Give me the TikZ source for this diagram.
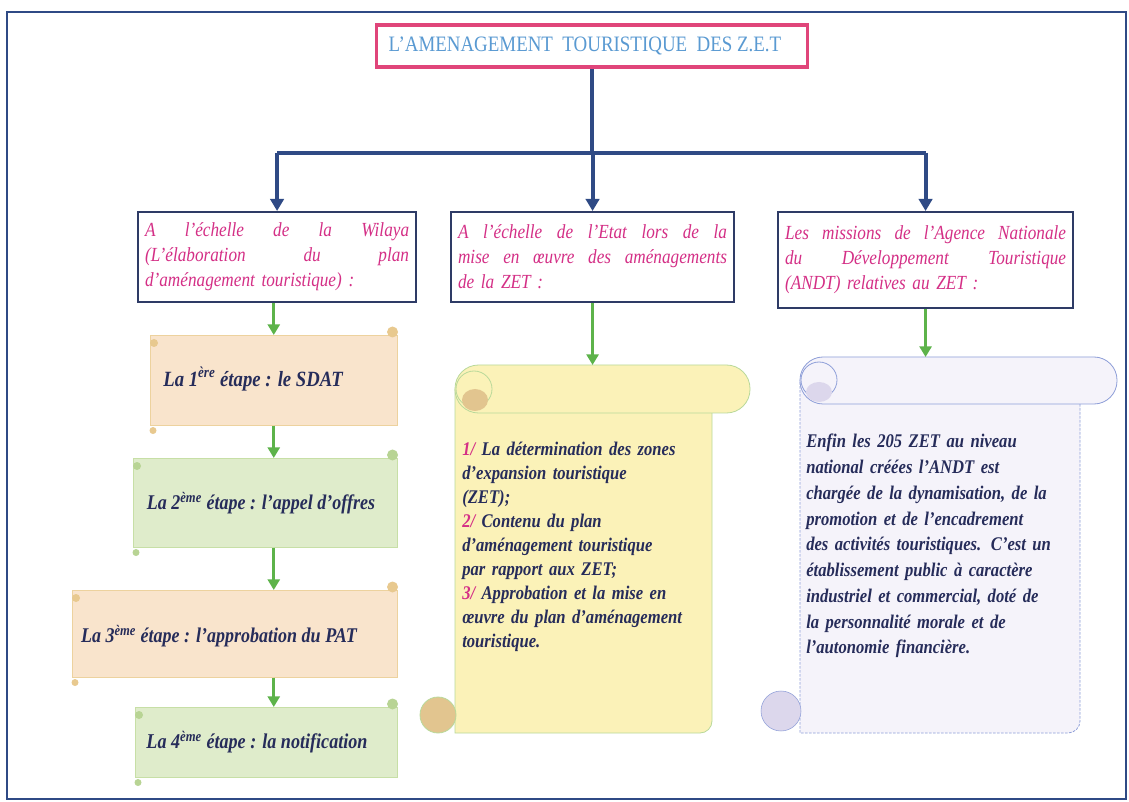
\documentclass[tikz,border=0pt]{standalone}
\usepackage{fontspec}
\setmainfont{Liberation Serif}
\newfontfamily\cond[FakeStretch=0.86]{Liberation Serif}
\usetikzlibrary{arrows.meta,calc}
\definecolor{navy}{HTML}{2F4A85}
\definecolor{boxline}{HTML}{2E3B66}
\definecolor{titlepink}{HTML}{E0457A}
\definecolor{titleblue}{HTML}{5A9AD2}
\definecolor{magent}{HTML}{D42F86}
\definecolor{arrgreen}{HTML}{5DB34A}
\definecolor{txtnavy}{HTML}{262C5A}
\definecolor{peach}{HTML}{F9E4CC}
\definecolor{peachline}{HTML}{EDD29E}
\definecolor{peachknob}{HTML}{E8C98F}
\definecolor{mint}{HTML}{DFECCB}
\definecolor{mintline}{HTML}{C7DFA6}
\definecolor{mintknob}{HTML}{B8D494}
\definecolor{paleyel}{HTML}{FBF2B8}
\definecolor{yelline}{HTML}{B9D99A}
\definecolor{tan}{HTML}{E2C58F}
\definecolor{lav}{HTML}{F5F3FA}
\definecolor{lavline}{HTML}{8E9ED8}
\definecolor{lavknob}{HTML}{DCD7EC}
\newdimen\pxu \pxu=0.75pt
\newcommand{\jline}[1]{\leavevmode\hbox to \hsize{\spaceskip=0.3em plus 1fil\relax #1}}
\begin{document}
\begin{tikzpicture}[x=0.75pt,y=-0.75pt,
  hdr/.style={draw=boxline, line width=1.6pt, fill=white, anchor=north west, inner sep=6\pxu,
    font=\cond\fontsize{15}{18.75}\selectfont\itshape, text=magent, align=left},
  stepbox/.style={inner sep=0pt, anchor=north west},
  steptext/.style={text=txtnavy},
  scrolltext/.style={font=\cond\fontsize{14.5}{18}\selectfont\bfseries\itshape, text=txtnavy, anchor=north west, align=left, inner sep=0pt},
  navyline/.style={draw=navy, line width=3pt},
  navyarrow/.style={navyline, -{Triangle[length=9pt,width=10pt]}},
  greenarrow/.style={draw=arrgreen, line width=2.4pt, -{Triangle[length=8pt,width=9pt]}},
]
\useasboundingbox (0,0) rectangle (1129,802);
\fill[white] (0,0) rectangle (1129,802);
\draw[navy, line width=1.6pt] (7,12) rectangle (1126,799);

% title
\node[draw=titlepink, line width=2.4pt, minimum width=431*\pxu, minimum height=42*\pxu, inner sep=0pt,
  font=\cond\fontsize{16.5}{17}\selectfont, text=titleblue] (title) at (592,46) {L’AMENAGEMENT\ \ TOURISTIQUE\ \ DES Z.E.T\hspace*{14\pxu}};

% header boxes
\node[hdr, minimum width=278*\pxu, minimum height=90*\pxu, text width=264*\pxu] (h1) at (137,211)
  {\jline{A l’échelle de la Wilaya}\\ \jline{(L’élaboration du plan}\\ d’aménagement touristique) :};
\node[hdr, minimum width=283*\pxu, minimum height=90*\pxu, text width=269*\pxu] (h2) at (450,211)
  {\jline{A l’échelle de l’Etat lors de la}\\ \jline{mise en œuvre des aménagements}\\ de la ZET :};
\node[hdr, minimum width=295*\pxu, minimum height=96*\pxu, text width=281*\pxu] (h3) at (777,211)
  {\jline{Les missions de l’Agence Nationale}\\ \jline{du Développement Touristique}\\ (ANDT) relatives au ZET :};

% navy tree
\coordinate (jn) at (592,153);
\coordinate (jl) at (h1.north |- jn);
\coordinate (jr) at (h3.north |- jn);
\draw[navyline] (title.south) -- (jn);
\draw[navyline] (jl) -- (jr);
\draw[navyarrow] (jl) -- (h1.north);
\draw[navyarrow] (h2.north |- jn) -- (h2.north);
\draw[navyarrow] (jr) -- (h3.north);

% left steps (horizontal scrolls)
\node[stepbox, minimum width=247*\pxu, minimum height=90*\pxu] (s1) at (150,335) {};
\node[stepbox, minimum width=264*\pxu, minimum height=89*\pxu] (s2) at (133,458) {};
\node[stepbox, minimum width=325*\pxu, minimum height=87*\pxu] (s3) at (72,590) {};
\node[stepbox, minimum width=262*\pxu, minimum height=70*\pxu] (s4) at (135,707) {};

\foreach \s/\f/\l/\k in {s1/peach/peachline/peachknob, s2/mint/mintline/mintknob, s3/peach/peachline/peachknob, s4/mint/mintline/mintknob}{
  \filldraw[fill=\f, draw=\l, line width=0.6pt] (\s.north west) rectangle (\s.south east);
  \fill[\k] ($(\s.north east)+(-5,-3)$) circle (5.5);
  \fill[\k] ($(\s.north west)+(4,8)$) circle (4);
  \fill[\k] ($(\s.south west)+(3,5)$) circle (3.5);
}
\node[steptext, font=\cond\fontsize{16.3}{18}\selectfont\bfseries\itshape] (t1) at (253,379) {La 1\textsuperscript{ère} étape : le SDAT};
\node[steptext, font=\cond\fontsize{15.7}{18}\selectfont\bfseries\itshape] (t2) at (261,503) {La 2\textsuperscript{ème} étape : l’appel d’offres};
\node[steptext, font=\cond\fontsize{15.7}{18}\selectfont\bfseries\itshape] (t3) at (219,636) {La 3\textsuperscript{ème} étape : l’approbation du PAT};
\node[steptext, font=\cond\fontsize{15.8}{18}\selectfont\bfseries\itshape] (t4) at (257,742) {La 4\textsuperscript{ème} étape : la notification};

\draw[greenarrow] (h1.south -| s1.north) -- (s1.north);
\draw[greenarrow] (s1.south) -- (s1.south |- s2.north);
\draw[greenarrow] (s2.south -| s1.south) -- (s1.south |- s3.north);
\draw[greenarrow] (s3.south -| s1.south) -- (s1.south |- s4.north);

% middle vertical scroll
\node[stepbox, minimum width=257*\pxu, minimum height=368*\pxu] (m) at (455,365) {};
\filldraw[fill=paleyel, draw=yelline, line width=0.6pt]
  (455,389) -- (712,389) -- (712,721) arc[start angle=0, end angle=90, radius=12] -- (455,733) -- cycle;
\filldraw[fill=paleyel, draw=yelline, line width=0.6pt, rounded corners=23.5\pxu] (455,365) rectangle (750,413);
\draw[yelline, line width=0.6pt] (474,389) circle (18);
\fill[tan] (475,400) ellipse (13 and 11);
\filldraw[fill=tan, draw=yelline, line width=0.6pt] (438,715) circle (18);
\draw[greenarrow] (h2.south) -- (h2.south |- m.north);
\node[scrolltext, text width=250*\pxu] (mt) at (462,442) {%
  \textcolor{magent}{1/} La détermination des zones\\
  d’expansion touristique\\
  (ZET);\\
  \textcolor{magent}{2/} Contenu du plan\\
  d’aménagement touristique\\
  par rapport aux ZET;\\
  \textcolor{magent}{3/} Approbation et la mise en\\
  œuvre du plan d’aménagement\\
  touristique.};

% right vertical scroll
\node[stepbox, minimum width=280*\pxu, minimum height=376*\pxu] (r) at (800,357) {};
\filldraw[fill=lav, draw=lavline, line width=0.6pt, dashed, dash pattern=on 2pt off 1pt]
  (800,380) -- (1080,380) -- (1080,721) arc[start angle=0, end angle=90, radius=12] -- (800,733) -- cycle;
\filldraw[fill=lav, draw=lavline, line width=0.6pt, rounded corners=23\pxu] (800,357) rectangle (1117,404);
\draw[lavline, line width=0.6pt] (819,380) circle (18);
\fill[lavknob] (819,392) ellipse (13 and 10);
\filldraw[fill=lavknob, draw=lavline, line width=0.4pt] (781,711) circle (20);
\draw[greenarrow] (h3.south) -- (h3.south |- r.north);
\node[scrolltext, text width=275*\pxu, font=\cond\fontsize{14.5}{19.3}\selectfont\bfseries\itshape] (rt) at (806,434) {%
  Enfin les 205 ZET au niveau\\
  national créées l’ANDT est\\
  chargée de la dynamisation, de la\\
  promotion  et de l’encadrement\\
  des activités touristiques. C’est un\\
  établissement public à caractère\\
  industriel et commercial, doté de\\
  la personnalité morale et de\\
  l’autonomie financière.};
\end{tikzpicture}
\end{document}
